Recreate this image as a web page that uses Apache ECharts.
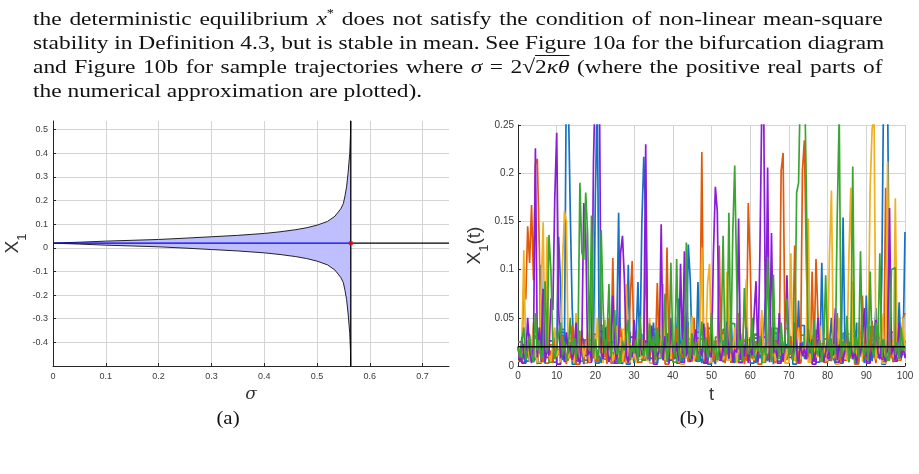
<!DOCTYPE html>
<html>
<head>
<meta charset="utf-8">
<script src="https://cdn.jsdelivr.net/npm/echarts@6/dist/echarts.min.js"></script>
<style>
  html, body { margin: 0; padding: 0; background: #fff; }
  #page { position: relative; width: 919px; height: 474px; overflow: hidden; }
  #chart { position: absolute; left: 0; top: 0; width: 919px; height: 474px; }
  #para { position: absolute; left: 33px; top: 1px; width: 708px;
          transform: scaleX(1.2); transform-origin: 0 0;
          font-family: "Liberation Serif", serif; font-size: 19.5px; line-height: 24.3px; color: #111; }
  .ln { text-align: justify; text-align-last: justify; white-space: nowrap; }
  .ln.last { text-align-last: left; }
  .m { font-style: italic; }
  .cap { position: absolute; top: 408px; font-family: "Liberation Serif", serif; font-size: 19px;
         line-height: 20px; color: #111; transform: translateX(-50%) scaleX(1.1); }
</style>
</head>
<body>
<div id="page">
  <div id="chart"></div>
  <div id="para">
    <div class="ln">the deterministic equilibrium <span class="m">x</span><sup style="font-size:12px">*</sup> does not satisfy the condition of non-linear mean-square</div>
    <div class="ln">stability in Definition 4.3, but is stable in mean. See Figure 10a for the bifurcation diagram</div>
    <div class="ln">and Figure 10b for sample trajectories where <span class="m">σ</span> = 2√<span style="text-decoration:overline">2<span class="m">κθ</span></span> (where the positive real parts of</div>
    <div class="ln last">the numerical approximation are plotted).</div>
  </div>
  <div class="cap" style="left:228px">(a)</div>
  <div class="cap" style="left:692px">(b)</div>
</div>
<script>
// (a) bifurcation diagram
const xStar = 0.02
const sigmaC = 0.564
const sigma = [0, 0.05, 0.1, 0.15, 0.2, 0.25, 0.3, 0.35, 0.4, 0.43, 0.46, 0.48, 0.5, 0.52, 0.534, 0.545, 0.55, 0.553, 0.556, 0.559, 0.562, 0.5635, 0.564]
const upperX1 = [0.02, 0.024, 0.0285, 0.032, 0.0355, 0.041, 0.047, 0.053, 0.061, 0.068, 0.077, 0.085, 0.096, 0.112, 0.134, 0.165, 0.188, 0.22, 0.258, 0.32, 0.4, 0.48, 0.58]
const lowerX1 = [0.02, 0.016, 0.0115, 0.008, 0.0045, -0.001, -0.007, -0.013, -0.021, -0.028, -0.037, -0.045, -0.056, -0.072, -0.094, -0.125, -0.148, -0.18, -0.218, -0.28, -0.36, -0.44, -0.54]
const sigmaMax = 0.75
const x1Min = -0.5
const x1Max = 0.537

// (b) sample trajectories, one value every 0.5 time units, values in 1e-3
const tStep = 0.5
const blueMilli = [
  20,12,20,8,3,15,6,22,4,10,2,18,105,7,3,25,9,14,5,30,
  11,134,84,6,17,310,280,161,60,9,35,4,21,13,2,28,8,16,5,24,
  180,270,12,3,19,40,7,26,10,4,15,31,159,8,2,20,11,105,6,18,
  3,25,87,9,148,217,153,14,5,22,45,8,3,17,29,6,12,33,4,10,
  19,7,36,70,11,4,23,9,126,90,14,28,5,87,10,3,18,40,6,13,
  38,8,2,21,15,30,4,11,26,7,55,12,3,19,9,34,6,14,27,5,
  30,10,18,3,24,8,13,36,72,5,16,29,2,20,11,42,7,15,4,23,
  9,31,6,18,12,68,3,25,10,15,35,7,22,4,14,28,9,107,5,17,
  11,24,50,8,3,19,27,6,154,13,20,4,33,9,15,45,7,12,26,3,
  73,10,18,5,29,60,13,8,92,300,330,280,40,12,4,40,21,66,9,16,
  139]
const orangeMilli = [
  20,8,14,82,69,145,107,167,89,209,215,124,10,4,22,45,7,16,3,27,
  9,18,5,31,12,2,24,8,42,15,6,19,11,38,4,26,10,3,17,8,
  23,5,14,30,7,19,2,50,12,112,6,21,9,40,16,4,28,11,70,109,
  8,17,3,44,13,6,124,22,9,27,4,15,86,10,19,48,5,123,14,31,
  6,12,40,3,21,9,52,16,4,25,11,50,7,18,30,222,5,14,45,9,
  20,4,27,12,125,8,16,3,22,10,38,6,19,13,55,7,24,2,15,169,
  108,11,5,26,9,17,46,4,20,13,7,40,14,3,25,10,203,221,18,6,
  44,12,21,125,8,16,3,203,234,107,15,6,98,11,111,53,19,4,27,9,
  42,13,5,20,8,55,17,3,24,11,29,6,14,88,10,21,4,18,73,12,
  7,26,9,47,15,3,40,11,19,6,185,22,8,14,4,48,16,10,25,50,
  55]
const yellowMilli = [
  20,6,15,120,9,27,4,18,45,11,3,22,80,149,7,134,13,5,24,40,
  10,17,4,107,161,150,8,20,12,3,55,15,6,26,9,19,35,4,14,28,
  7,50,11,23,3,48,16,8,21,5,13,42,9,30,4,17,85,10,24,6,
  15,3,38,19,8,27,11,5,50,14,22,4,18,9,31,85,6,13,25,7,
  44,10,19,4,16,28,36,8,13,22,52,5,17,11,29,123,7,20,86,106,
  9,14,25,4,45,18,6,11,98,23,7,16,40,3,20,12,27,55,90,8,
  15,24,6,19,10,31,58,4,17,13,44,8,22,5,16,48,11,26,3,18,
  9,117,14,5,25,40,7,19,12,28,153,4,16,21,9,13,42,6,23,11,
  17,118,182,8,20,5,50,14,27,10,6,114,185,12,21,4,45,16,9,60,
  13,25,186,246,260,7,18,11,55,22,5,212,15,28,9,174,13,6,20,50,
  12]
const purpleMilli = [
  20,4,30,12,7,50,16,3,21,226,9,40,14,80,5,18,11,70,58,174,
  242,60,8,19,4,35,13,22,6,15,45,9,3,26,169,137,11,17,5,211,
  300,280,310,14,7,40,20,4,12,73,18,6,25,117,135,89,10,3,21,9,
  48,15,5,28,11,19,230,7,14,42,4,23,9,16,147,6,31,12,3,50,
  17,8,24,5,106,13,119,10,20,4,15,27,38,7,18,11,44,3,22,14,
  9,117,186,160,16,5,21,12,46,8,29,4,17,14,153,6,23,10,40,3,
  19,11,53,88,7,116,270,260,15,206,4,138,13,22,8,55,17,5,26,94,
  12,20,6,45,15,3,24,10,18,7,38,13,28,5,16,50,9,21,4,14,
  27,8,17,11,60,6,22,13,4,19,42,10,25,7,15,3,20,12,30,60,
  9,16,5,23,11,48,14,7,26,10,4,19,164,12,21,6,15,45,8,18,
  11]
const greenMilli = [
  20,9,25,40,6,18,31,12,4,55,16,27,8,21,88,14,136,100,22,7,
  19,33,45,11,26,5,17,50,13,29,8,24,190,118,110,180,136,15,156,10,
  28,6,21,141,60,14,30,85,9,23,58,12,19,4,26,16,33,48,7,20,
  13,27,5,52,18,10,24,8,44,15,31,6,40,21,12,29,75,4,17,107,
  23,9,111,16,5,28,13,128,20,7,34,11,25,4,18,46,14,30,8,22,
  55,12,26,6,19,33,135,10,21,159,14,138,208,91,17,27,5,81,22,12,
  18,50,8,24,15,31,6,20,11,113,26,4,95,16,23,9,45,13,28,70,
  10,22,6,17,180,190,300,290,310,185,14,25,8,48,19,11,27,5,21,94,
  15,29,7,23,12,159,260,9,26,16,52,4,20,207,13,30,8,119,18,11,
  24,6,98,17,10,45,21,117,9,28,14,5,19,100,102,12,25,7,40,16,
  20]

// low-level background trajectories, one value every 1 time unit, values in 1e-3
const bgStep = 1
const bgBlueMilli = [
  8,22,5,14,31,3,18,9,26,4,12,35,7,20,2,16,28,6,11,24,
  3,19,40,8,13,5,27,10,2,21,15,33,6,9,25,4,17,12,30,7,
  14,3,22,45,9,18,5,28,11,2,16,24,8,38,13,4,20,7,26,10,
  3,29,15,6,21,12,34,5,18,9,25,2,14,42,8,19,11,4,23,16,
  6,27,10,3,20,13,36,7,15,24,5,11,30,9,2,18,26,8,14,21,
  10]
const bgOrangeMilli = [
  15,4,25,11,7,30,18,3,22,9,14,38,6,19,27,2,12,24,8,33,
  5,17,10,28,3,21,13,6,35,16,9,4,26,11,20,7,31,14,2,18,
  25,8,12,40,5,19,29,10,3,23,15,7,36,13,21,4,17,9,27,6,
  11,32,2,16,24,8,14,20,5,39,12,26,3,18,10,22,7,30,15,4,
  19,9,28,13,6,24,17,2,34,11,8,21,14,29,5,16,23,10,6,26,
  9]
const bgYellowMilli = [
  5,18,9,27,13,4,22,16,7,34,2,20,11,29,6,15,25,3,19,12,
  31,8,14,23,5,17,10,38,4,21,13,7,26,18,3,30,11,16,6,24,
  9,20,2,28,14,35,7,12,19,4,25,10,17,32,6,22,13,3,27,15,
  8,18,24,5,11,37,9,20,14,3,29,16,7,23,12,4,31,10,18,6,
  26,13,2,21,15,33,8,11,25,5,19,9,28,14,3,22,17,7,12,24,
  15]
const bgPurpleMilli = [
  12,3,20,8,29,14,5,24,10,17,2,31,9,15,22,6,27,11,4,19,
  13,36,7,18,25,3,14,21,9,30,5,16,12,26,8,2,23,15,33,6,
  19,11,4,27,14,8,22,17,3,39,10,25,6,13,20,9,28,4,16,11,
  24,5,18,30,7,12,26,3,21,15,9,34,6,17,11,23,2,19,13,28,
  8,15,4,25,20,10,31,6,14,18,3,27,12,22,7,16,35,5,11,20,
  8]
const bgGreenMilli = [
  25,10,33,6,18,28,12,40,4,21,15,30,8,24,11,36,5,19,27,9,
  16,42,7,22,13,29,3,18,26,10,34,14,6,23,17,38,8,20,12,31,
  4,25,16,9,28,19,35,6,14,22,11,30,7,26,18,44,5,20,13,27,
  9,33,15,4,24,17,39,8,21,12,29,6,18,32,10,23,14,37,5,19,
  28,11,25,7,34,16,22,3,30,13,20,41,9,17,26,6,24,15,31,12,
  18]
const tMax = 100
const yTMax = 0.25

const trajColors = ['#1572C2', '#E05A0C', '#EFB023', '#8A1BD6', '#3BA532']
const trajs = [blueMilli, orangeMilli, yellowMilli, purpleMilli, greenMilli]
const bgTrajs = [bgBlueMilli, bgOrangeMilli, bgYellowMilli, bgPurpleMilli, bgGreenMilli]

const tickFont = 'Liberation Sans'
const labelColor = '#3a3a3a'
const gridColor = '#d4d4d4'
const axisColor = '#262626'

const chart = echarts.init(document.getElementById('chart'), null, { renderer: 'canvas' })

const baseAxis = (extra) => Object.assign({
  type: 'value',
  axisLine: { show: true, onZero: false, lineStyle: { color: axisColor, width: 1 } },
  axisTick: { show: true, inside: true, length: 3, lineStyle: { color: axisColor } },
  splitLine: { show: true, lineStyle: { color: gridColor, width: 1 } },
  axisLabel: { fontFamily: tickFont, color: labelColor }
}, extra)

const makeTraj = (arr, step, k, z) => ({
  type: 'line',
  xAxisIndex: 1,
  yAxisIndex: 1,
  step: 'end',
  symbol: 'none',
  silent: true,
  lineStyle: { color: trajColors[k], width: 1.7 },
  data: arr.map((v, i) => [i * step, v / 1000]),
  z: z
})
const bgSeries = bgTrajs.map((arr, k) => makeTraj(arr, bgStep, k, 2))
const trajSeries = trajs.map((arr, k) => makeTraj(arr, tStep, k, 3 + k))

const option = {
  animation: false,
  grid: [
    { left: 53, top: 121, width: 396, height: 245 },
    { left: 518, top: 125, width: 387, height: 241 }
  ],
  xAxis: [
    baseAxis({
      gridIndex: 0, min: 0, max: sigmaMax, interval: 0.1,
      axisLabel: { fontFamily: tickFont, color: labelColor, fontSize: 9, margin: 6, showMaxLabel: false },
      splitLine: { show: true, showMaxLine: false, lineStyle: { color: gridColor } },
      name: 'σ', nameLocation: 'middle', nameGap: 12,
      nameTextStyle: { fontFamily: 'DejaVu Serif', fontStyle: 'italic', fontSize: 17, color: '#333' }
    }),
    baseAxis({
      gridIndex: 1, min: 0, max: tMax, interval: 10,
      axisLabel: { fontFamily: tickFont, color: labelColor, fontSize: 10, margin: 5 },
      name: 't', nameLocation: 'middle', nameGap: 16,
      nameTextStyle: { fontFamily: tickFont, fontSize: 18, color: '#333' }
    })
  ],
  yAxis: [
    baseAxis({
      gridIndex: 0, min: x1Min, max: x1Max, interval: 0.1,
      axisLabel: { fontFamily: tickFont, color: labelColor, fontSize: 9, margin: 5, showMinLabel: false, showMaxLabel: false },
      splitLine: { show: true, showMaxLine: false, lineStyle: { color: gridColor } },
      name: '{x|X}{s|1}', nameLocation: 'middle', nameGap: 21,
      nameTextStyle: { rich: {
        x: { fontFamily: tickFont, fontSize: 19, color: '#333', verticalAlign: 'top' },
        s: { fontFamily: tickFont, fontSize: 13, color: '#333', verticalAlign: 'top', padding: [12, 0, 0, 0] }
      } }
    }),
    baseAxis({
      gridIndex: 1, min: 0, max: yTMax, interval: 0.05,
      axisLabel: { fontFamily: tickFont, color: labelColor, fontSize: 10, margin: 4 },
      name: '{x|X}{s|1}{x|(t)}', nameLocation: 'middle', nameGap: 24,
      nameTextStyle: { rich: {
        x: { fontFamily: tickFont, fontSize: 19, color: '#333', verticalAlign: 'top' },
        s: { fontFamily: tickFont, fontSize: 13, color: '#333', verticalAlign: 'top', padding: [12, 0, 0, 0] }
      } }
    })
  ],
  series: [
    {
      // shaded band between the lower and upper branches
      type: 'custom', xAxisIndex: 0, yAxisIndex: 0, silent: true, clip: true,
      data: [0],
      renderItem: (params, api) => {
        const top = sigma.map((s, i) => api.coord([s, upperX1[i]]))
        const bottom = sigma.map((s, i) => api.coord([s, lowerX1[i]])).reverse()
        return { type: 'polygon', shape: { points: top.concat(bottom) }, style: { fill: '#bfbfff' } }
      },
      z: 1
    },
    {
      type: 'line', xAxisIndex: 0, yAxisIndex: 0, symbol: 'none', silent: true,
      lineStyle: { color: '#222', width: 1 },
      data: sigma.map((s, i) => [s, upperX1[i]])
    },
    {
      type: 'line', xAxisIndex: 0, yAxisIndex: 0, symbol: 'none', silent: true,
      lineStyle: { color: '#222', width: 1 },
      data: sigma.map((s, i) => [s, lowerX1[i]])
    },
    {
      type: 'line', xAxisIndex: 0, yAxisIndex: 0, symbol: 'none', silent: true,
      lineStyle: { color: '#0000ff', width: 1.3 },
      data: [[0, xStar], [sigmaC, xStar]]
    },
    {
      type: 'line', xAxisIndex: 0, yAxisIndex: 0, symbol: 'none', silent: true,
      lineStyle: { color: '#000', width: 1.3 },
      data: [[sigmaC, xStar], [sigmaMax, xStar]]
    },
    {
      type: 'line', xAxisIndex: 0, yAxisIndex: 0, symbol: 'none', silent: true,
      lineStyle: { color: '#000', width: 1.3 },
      data: [[sigmaC, x1Min], [sigmaC, x1Max]]
    },
    {
      type: 'scatter', xAxisIndex: 0, yAxisIndex: 0, silent: true,
      symbol: 'rect', symbolSize: 4, itemStyle: { color: '#ff0000' },
      data: [[sigmaC, xStar]], z: 5
    },
    ...bgSeries,
    ...trajSeries,
    {
      type: 'line', xAxisIndex: 1, yAxisIndex: 1, symbol: 'none', silent: true,
      lineStyle: { color: '#000', width: 1.5 },
      data: [[0, xStar], [tMax, xStar]], z: 10
    }
  ]
}
chart.setOption(option)
</script>
</body>
</html>
